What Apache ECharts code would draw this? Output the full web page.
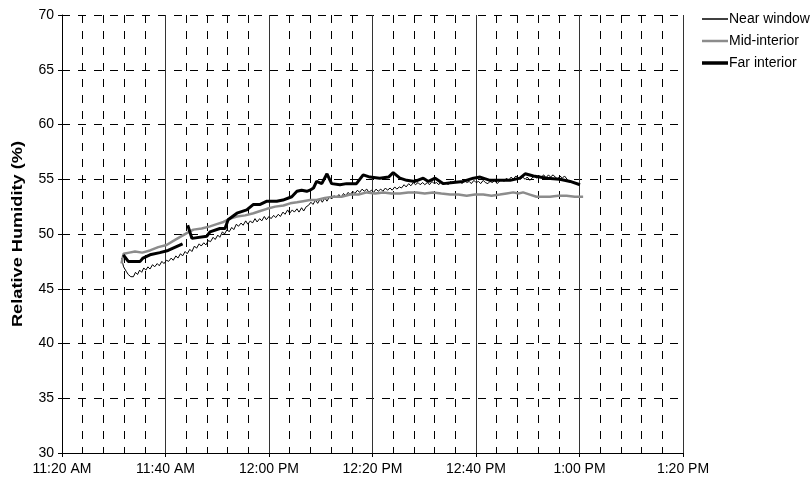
<!DOCTYPE html>
<html>
<head>
<meta charset="utf-8">
<script src="https://cdn.jsdelivr.net/npm/echarts@6/dist/echarts.min.js"></script>
<style>
html,body{margin:0;padding:0;background:#fff;}
#chart{width:812px;height:483px;}
</style>
</head>
<body>
<div id="chart"></div>
<script>
// time values are minutes after 11:20 AM
const axisStartClockMinutes = 680; // 11:20 AM
const seriesNames = ['Near window', 'Mid-interior', 'Far interior'];
const yAxisTitle = 'Relative Humidity (%)';

const nearWindowTime = [11.5,11.9,12.4,12.8,13.3,13.8,14.2,14.6,15.0,15.4,15.8,16.2,16.6,17.0,17.5,17.9,18.4,18.8,19.3,19.7,20.2,20.6,21.1,21.5,22.0,22.4,22.9,23.3,23.8,24.2,24.7,25.1,25.6,26.0,26.5,26.9,27.4,27.8,28.3,28.7,29.2,29.6,30.1,30.5,31.0,31.4,31.9,32.3,32.8,33.2,33.7,34.1,34.6,35.0,35.5,35.9,36.4,36.8,37.3,37.7,38.2,38.6,39.1,39.5,40.0,40.4,40.9,41.3,41.8,42.2,42.7,43.1,43.6,44.0,44.5,44.9,45.4,45.8,46.3,46.7,47.2,47.6,48.1,48.5,49.0,49.4,49.9,50.3,50.8,51.2,51.7,52.1,52.6,53.0,53.5,53.9,54.4,54.8,55.3,55.7,56.2,56.6,57.1,57.5,58.0,58.4,58.9,59.3,59.8,60.2,60.7,61.1,61.6,62.0,62.5,62.9,63.4,63.8,64.3,64.7,65.2,65.6,66.1,66.5,67.0,67.4,67.9,68.3,68.8,69.2,69.7,70.1,70.6,71.0,71.5,71.9,72.4,72.8,73.3,73.7,74.2,74.6,75.1,75.5,76.0,76.4,76.9,77.3,77.8,78.2,78.7,79.1,79.6,80.0,80.5,80.9,81.4,81.8,82.3,82.7,83.2,83.6,84.1,84.5,85.0,85.4,85.9,86.3,86.8,87.2,87.7,88.1,88.6,89.0,89.5,89.9,90.4,90.8,91.3,91.7,92.2,92.6,93.1,93.5,94.0,94.4,94.9,95.3,95.8,96.2,96.7,97.1,97.6,98.0,98.5,98.9,99.4,99.8,100.4];
const nearWindowRH = [47.8,47.0,46.6,46.3,46.1,46.1,46.5,46.3,46.7,46.5,46.9,46.7,47.0,46.8,47.2,47.0,47.3,47.1,47.5,47.3,47.6,47.5,47.8,47.6,48.0,47.8,48.2,48.0,48.4,48.2,48.6,48.4,48.9,48.7,49.1,48.9,49.2,49.0,49.4,49.3,49.7,49.5,49.9,49.7,50.2,50.0,50.4,50.2,50.6,50.4,50.9,50.7,51.0,50.8,51.2,50.9,51.2,51.0,51.4,51.1,51.4,51.2,51.6,51.3,51.6,51.4,51.7,51.5,51.8,51.6,52.0,51.8,52.2,51.9,52.2,52.0,52.3,52.0,52.4,52.1,52.5,52.6,52.9,52.7,53.1,52.8,53.2,52.9,53.3,53.0,53.4,53.2,53.5,53.3,53.6,53.3,53.7,53.5,53.8,53.6,53.9,53.7,54.0,53.8,54.1,53.9,54.1,53.8,54.0,53.8,54.1,53.9,54.1,53.9,54.2,54.0,54.2,54.0,54.3,54.1,54.3,54.2,54.5,54.3,54.6,54.4,54.7,54.5,54.7,54.5,54.7,54.5,54.7,54.5,54.8,54.6,54.7,54.5,54.8,54.6,54.7,54.5,54.8,54.6,54.9,54.7,54.8,54.6,54.9,54.7,54.8,54.6,54.9,54.7,54.8,54.6,54.9,54.7,54.6,54.8,54.7,54.9,54.6,54.8,55.0,54.8,55.1,54.9,55.2,55.0,55.3,55.1,55.0,55.2,55.0,55.2,54.9,55.1,55.3,55.1,55.3,55.2,55.4,55.1,55.4,55.2,55.4,55.2,55.0,55.3,55.1,55.3,55.0,54.8];

const midInteriorTime = [11.5,11.9,13.0,14.1,15.5,17.0,18.6,20.2,21.6,23.1,24.2,25.4,27.0,28.6,29.9,31.2,32.5,33.8,35.4,37.0,38.3,39.6,41.2,42.8,44.1,45.4,46.6,47.9,49.2,50.8,52.4,54.0,55.7,57.3,58.9,60.5,62.1,63.7,65.3,66.9,68.5,70.1,71.7,73.3,75.0,76.6,78.2,79.8,81.4,83.0,84.6,85.9,87.2,88.2,89.1,90.4,91.7,93.0,94.3,95.9,97.5,99.1,100.7];
const midInteriorRH = [47.3,48.2,48.3,48.4,48.3,48.5,48.8,49.0,49.4,49.8,50.1,50.4,50.5,50.7,50.9,51.1,51.4,51.6,51.7,51.9,52.1,52.3,52.5,52.6,52.8,52.9,53.0,53.1,53.1,53.3,53.4,53.4,53.6,53.6,53.8,53.7,53.8,53.7,53.7,53.8,53.8,53.7,53.8,53.7,53.6,53.6,53.5,53.6,53.6,53.5,53.6,53.7,53.8,53.7,53.8,53.6,53.4,53.4,53.4,53.5,53.5,53.4,53.4];

const farInteriorTime = [11.85,12.8,15.1,15.65,17.0,18.9,20.5,23.3,23.8,24.3,25.1,28.0,28.6,30.5,31.5,32.1,33.8,35.7,37.0,38.3,39.6,41.5,42.7,44.4,45.4,46.3,47.3,47.9,48.6,49.2,50.2,51.2,52.1,53.7,55.0,56.9,58.2,59.5,61.4,63.1,64.0,65.3,66.6,68.2,69.8,70.8,72.1,73.7,75.6,77.5,79.5,80.8,82.7,84.6,86.6,88.5,89.5,91.1,93.7,96.2,98.2,100.1];
const farInteriorRH = [48.1,47.5,47.5,47.8,48.1,48.3,48.5,49.1,null,50.8,49.6,49.8,50.2,50.5,50.5,51.3,51.9,52.2,52.7,52.7,53.0,53.0,53.1,53.4,53.9,54.0,53.9,54.0,54.2,54.8,54.6,55.5,54.6,54.5,54.6,54.6,55.4,55.2,55.1,55.2,55.6,55.1,54.9,54.8,55.1,54.8,55.1,54.6,54.7,54.8,55.1,55.2,54.9,54.9,54.9,55.1,55.5,55.3,55.1,55.0,54.8,54.5];

const yTicks = {min: 30, max: 70, step: 5};
const xTicks = {min: 0, max: 120, step: 20, minorPerStep: 5};

function pairs(t, v) { return t.map((x, i) => [x, v[i] === null ? '-' : v[i]]); }
function clockLabel(m) {
  const total = axisStartClockMinutes + m;
  let h = Math.floor(total / 60), mm = Math.round(total % 60);
  const ap = h >= 12 ? 'PM' : 'AM';
  h = h % 12; if (h === 0) h = 12;
  return h + ':' + (mm < 10 ? '0' + mm : mm) + ' ' + ap;
}

const chart = echarts.init(document.getElementById('chart'));
const font = 'Liberation Sans, Arial, sans-serif';
const styles = [
  {color: '#000', width: 1},
  {color: '#8c8c8c', width: 2.5},
  {color: '#000', width: 3}
];
const legendIconThickness = [1.5, 2.5, 3.5];
chart.setOption({
  animation: false,
  backgroundColor: '#fff',
  textStyle: {fontFamily: font},
  grid: {left: 62, right: 129, top: 15, bottom: 30},
  legend: {
    orient: 'vertical', left: 697, top: 7,
    itemWidth: 26, itemHeight: 14, itemGap: 8,
    textStyle: {fontSize: 14, color: '#000', fontFamily: font, padding: [0,0,0,-4]},
    data: seriesNames.map((n, i) => ({name: n, icon: 'path://M0 0H26V' + legendIconThickness[i] + 'H0Z'}))
  },
  graphic: [{
    type: 'text', x: 18.5, y: 234, rotation: Math.PI / 2, scaleX: 1.3,
    style: {text: yAxisTitle, font: 'bold 14px ' + font, fill: '#000', align: 'center', verticalAlign: 'middle'}
  }],
  xAxis: {
    type: 'value', min: xTicks.min, max: xTicks.max, interval: xTicks.step,
    axisLine: {lineStyle: {color: '#000', width: 1}},
    axisTick: {show: true, length: 4, lineStyle: {color: '#000'}},
    axisLabel: {color: '#000', fontSize: 14, margin: 9, formatter: clockLabel, fontFamily: font},
    splitLine: {show: true, lineStyle: {color: '#333', width: 1, type: 'solid'}},
    minorTick: {show: false, splitNumber: xTicks.minorPerStep},
    minorSplitLine: {show: true, lineStyle: {color: '#000', width: 1, type: [8, 8]}}
  },
  yAxis: {
    type: 'value', min: yTicks.min, max: yTicks.max, interval: yTicks.step,
    axisLine: {show: true, lineStyle: {color: '#000', width: 1}},
    axisTick: {show: true, length: 4, lineStyle: {color: '#000'}},
    axisLabel: {color: '#000', fontSize: 14, margin: 8, fontFamily: font},
    splitLine: {show: true, lineStyle: {color: '#000', width: 1, type: [8, 8]}}
  },
  series: [
    {name: seriesNames[0], type: 'line', symbol: 'none', data: pairs(nearWindowTime, nearWindowRH),
     lineStyle: styles[0], itemStyle: {color: styles[0].color}},
    {name: seriesNames[1], type: 'line', symbol: 'none', data: pairs(midInteriorTime, midInteriorRH),
     lineStyle: styles[1], itemStyle: {color: styles[1].color}},
    {name: seriesNames[2], type: 'line', symbol: 'none', data: pairs(farInteriorTime, farInteriorRH),
     lineStyle: styles[2], itemStyle: {color: styles[2].color}}
  ]
});
</script>
</body>
</html>
